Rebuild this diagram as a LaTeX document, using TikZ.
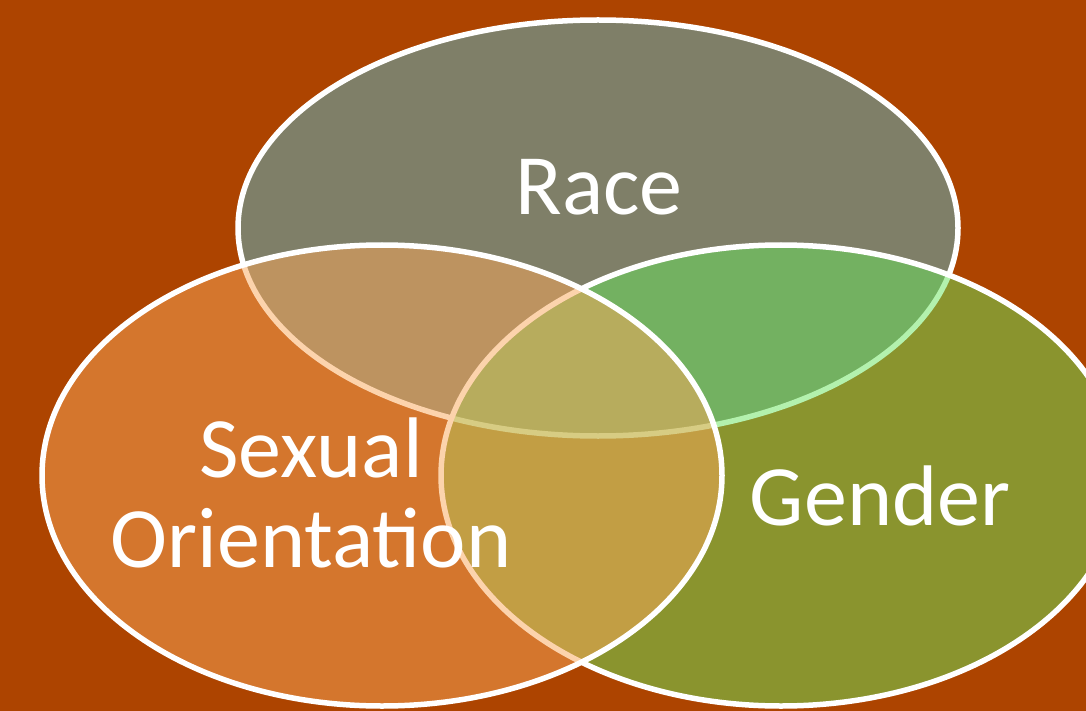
\documentclass[tikz,border=0pt]{standalone}
\usepackage{fontspec}
\setmainfont{Carlito}
\usetikzlibrary{shapes.geometric}

\definecolor{bgrust}{RGB}{173,68,0}
\definecolor{racecol}{RGB}{83,186,208}
\definecolor{gendercol}{RGB}{105,228,92}
\definecolor{orientcol}{RGB}{251,168,90}

\begin{document}
\begin{tikzpicture}[x=1pt, y=-1pt,
        venn/.style={ellipse, draw=white, line width=5.5pt, fill opacity=0.5, inner sep=0pt},
        vlabel/.style={text=white, align=center, font=\fontsize{86}{90}\selectfont}
      ]

    \clip (0,0) rectangle (1086,711);
    \fill[bgrust] (0,0) rectangle (1086,711);

    % the three sets
    \node[venn, fill=racecol, minimum width=720pt, minimum height=416pt] (race) at (598,228) {};
    \node[venn, fill=gendercol, minimum width=680pt, minimum height=461pt] (gender) at (781,475.5) {};
    \node[venn, fill=orientcol, minimum width=680pt, minimum height=461pt] (orient) at (382,475.5) {};

    % labels
    \node[vlabel, anchor=base] (racelbl) at (599,215) {Race};
    \node[vlabel, anchor=base] (orientlbl) at (311,567) {Sexual\\Orientation};
    \node[vlabel, anchor=base] (genderlbl) at (880,525) {Gender};

    \end{tikzpicture}
\end{document}
